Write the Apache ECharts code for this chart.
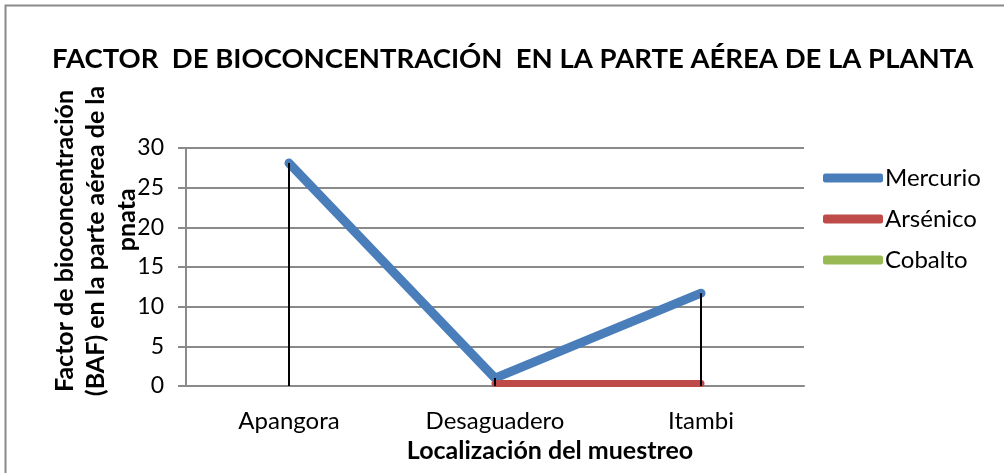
<!DOCTYPE html>
<html>
<head>
<meta charset="utf-8">
<script src="https://cdn.jsdelivr.net/npm/echarts@6/dist/echarts.min.js"></script>
<style>
html,body{margin:0;padding:0;background:#fff;}
#c{width:1004px;height:473px;}
</style>
</head>
<body>
<div id="c"></div>
<script>
const categories = ['Apangora', 'Desaguadero', 'Itambi'];
const mercurio = [28.1, 1.0, 11.7];
const arsenico = [null, 0.3, 0.3];
const cobalto = [null, null, null];
const yTicks = [0, 5, 10, 15, 20, 25, 30];
const seriesNames = ['Mercurio', 'Arsénico', 'Cobalto'];
const titleText = 'FACTOR  DE BIOCONCENTRACIÓN  EN LA PARTE AÉREA DE LA PLANTA';
const yName = 'Factor de bioconcentración\n(BAF) en la parte aérea de la\n\u00a0\u00a0\u00a0\u00a0\u00a0\u00a0\u00a0pnata';
const xName = 'Localización del muestreo';

const allSeries = [mercurio, arsenico, cobalto];
const dropLines = categories.map((_, i) => {
  const vals = allSeries.map(s => s[i]).filter(v => v !== null && v !== undefined);
  return vals.length ? Math.max(...vals) : null;
});

const FONT = 'Lato';
const colors = ['#4A7EBB', '#BE4B48', '#98B954'];

const chart = echarts.init(document.getElementById('c'), null, {renderer: 'canvas'});
chart.setOption({
  animation: false,
  backgroundColor: '#fff',
  textStyle: {fontFamily: FONT},
  title: {
    text: titleText,
    left: 47,
    top: 40,
    textStyle: {fontFamily: FONT, fontWeight: 'bold', fontSize: 27.5, color: '#000'}
  },
  graphic: [{
    type: 'rect',
    shape: {x: 5.5, y: 5.5, width: 1010, height: 480},
    style: {fill: 'none', stroke: '#8a8a8a', lineWidth: 2},
    silent: true
  }],
  legend: {
    orient: 'vertical',
    left: 823,
    top: 164,
    padding: 0,
    itemWidth: 60,
    itemHeight: 9,
    itemGap: 13,
    icon: 'roundRect',
    data: seriesNames,
    textStyle: {fontFamily: FONT, fontSize: 24, color: '#000', padding: [0, 0, 0, -3], lineHeight: 28}
  },
  grid: {left: 186, right: 200, top: 148, bottom: 87},
  xAxis: {
    type: 'category',
    data: categories,
    boundaryGap: true,
    name: xName,
    nameLocation: 'middle',
    nameGap: 52,
    nameMoveOverlap: false,
    nameTextStyle: {fontFamily: FONT, fontWeight: 'bold', fontSize: 25, color: '#000', padding: [0, 0, 0, 110]},
    axisLine: {lineStyle: {color: '#8a8a8a', width: 2}},
    axisTick: {show: false},
    axisLabel: {fontFamily: FONT, fontSize: 24, color: '#000', margin: 23}
  },
  yAxis: {
    type: 'value',
    min: 0, max: 30, interval: 5,
    name: yName,
    nameLocation: 'middle',
    nameRotate: 90,
    nameGap: 44,
    nameMoveOverlap: false,
    nameTextStyle: {fontFamily: FONT, fontWeight: 'bold', fontSize: 25, color: '#000', lineHeight: 31, padding: [0, 0, 0, 52]},
    axisLine: {show: true, lineStyle: {color: '#8a8a8a', width: 2}},
    axisTick: {show: true, length: 8, lineStyle: {color: '#8a8a8a', width: 2}},
    axisLabel: {fontFamily: FONT, fontSize: 23, color: '#000', margin: 22,
      formatter: v => yTicks.includes(v) ? String(v) : ''},
    splitLine: {lineStyle: {color: '#8a8a8a', width: 2}}
  },
  series: [
    {name: 'Mercurio', type: 'line', data: mercurio, showSymbol: false, symbol: 'none', z: 3,
      itemStyle: {color: colors[0]}, lineStyle: {color: colors[0], width: 9, cap: 'round', join: 'round'}},
    {name: 'Arsénico', type: 'line', data: arsenico, showSymbol: false, symbol: 'none', z: 3,
      itemStyle: {color: colors[1]}, lineStyle: {color: colors[1], width: 7, cap: 'round', join: 'round'}},
    {name: 'Cobalto', type: 'line', data: cobalto, showSymbol: false, symbol: 'none', z: 3,
      itemStyle: {color: colors[2]}, lineStyle: {color: colors[2], width: 7, cap: 'round', join: 'round'}},
    {name: 'drop', type: 'bar', data: dropLines, barWidth: 2, z: 5, silent: true,
      itemStyle: {color: '#000'}}
  ]
});
</script>
</body>
</html>
